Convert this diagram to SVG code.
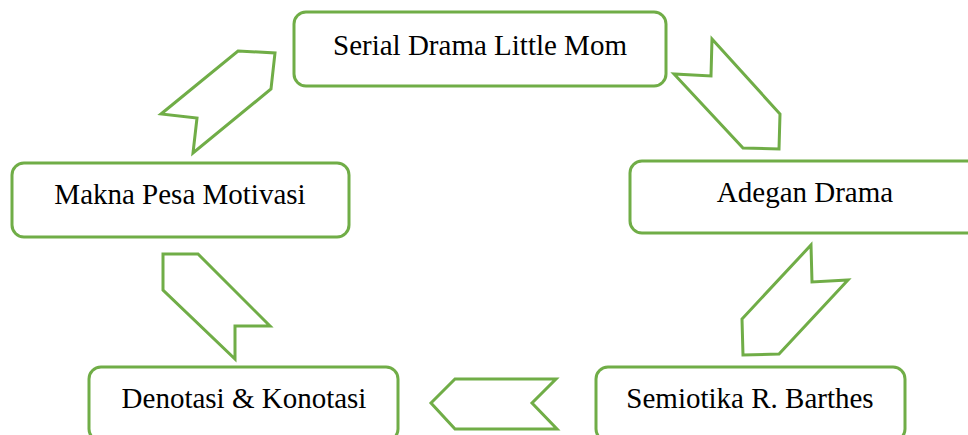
<svg xmlns="http://www.w3.org/2000/svg" width="968" height="435" viewBox="0 0 968 435">
<style>
.box{fill:#fff;stroke:#70AD47;stroke-width:3}
.arr{fill:#fff;stroke:#70AD47;stroke-width:3;stroke-linejoin:miter}
.t{font-family:"Liberation Serif","Times New Roman",serif;font-size:29px;fill:#000;text-anchor:middle}
</style>
<rect width="968" height="435" fill="#fff"/>
<g id="n1"><rect class="box" x="294" y="12" width="372" height="74" rx="12"/><text class="t" x="480" y="55">Serial Drama Little Mom</text></g>
<g id="n2"><rect class="box" x="630" y="161" width="349" height="72" rx="12"/><text class="t" x="805" y="202">Adegan Drama</text></g>
<g id="n3"><rect class="box" x="596" y="367" width="309" height="74" rx="12"/><text class="t" x="750" y="408">Semiotika R. Barthes</text></g>
<g id="n4"><rect class="box" x="89" y="367" width="309" height="74" rx="12"/><text class="t" x="244" y="408">Denotasi &amp; Konotasi</text></g>
<g id="n5"><rect class="box" x="12" y="163" width="337" height="74" rx="12"/><text class="t" x="180" y="204">Makna Pesa Motivasi</text></g>
<g id="connectors">
<polygon class="arr" points="712,39 780,114 779,149 743,148 674,74 711,76"/>
<polygon class="arr" points="811,245 812,282 848,280 779,354 743,355 742,319"/>
<polygon class="arr" points="455,379 556,379 532,403 557,429 455,429 431,403"/>
<polygon class="arr" points="163,254 198,254 270,326 235,326 235,359 163,290"/>
<polygon class="arr" points="238,51 275,53 271,89 193,153 197,118 161,114"/>
</g>
</svg>
